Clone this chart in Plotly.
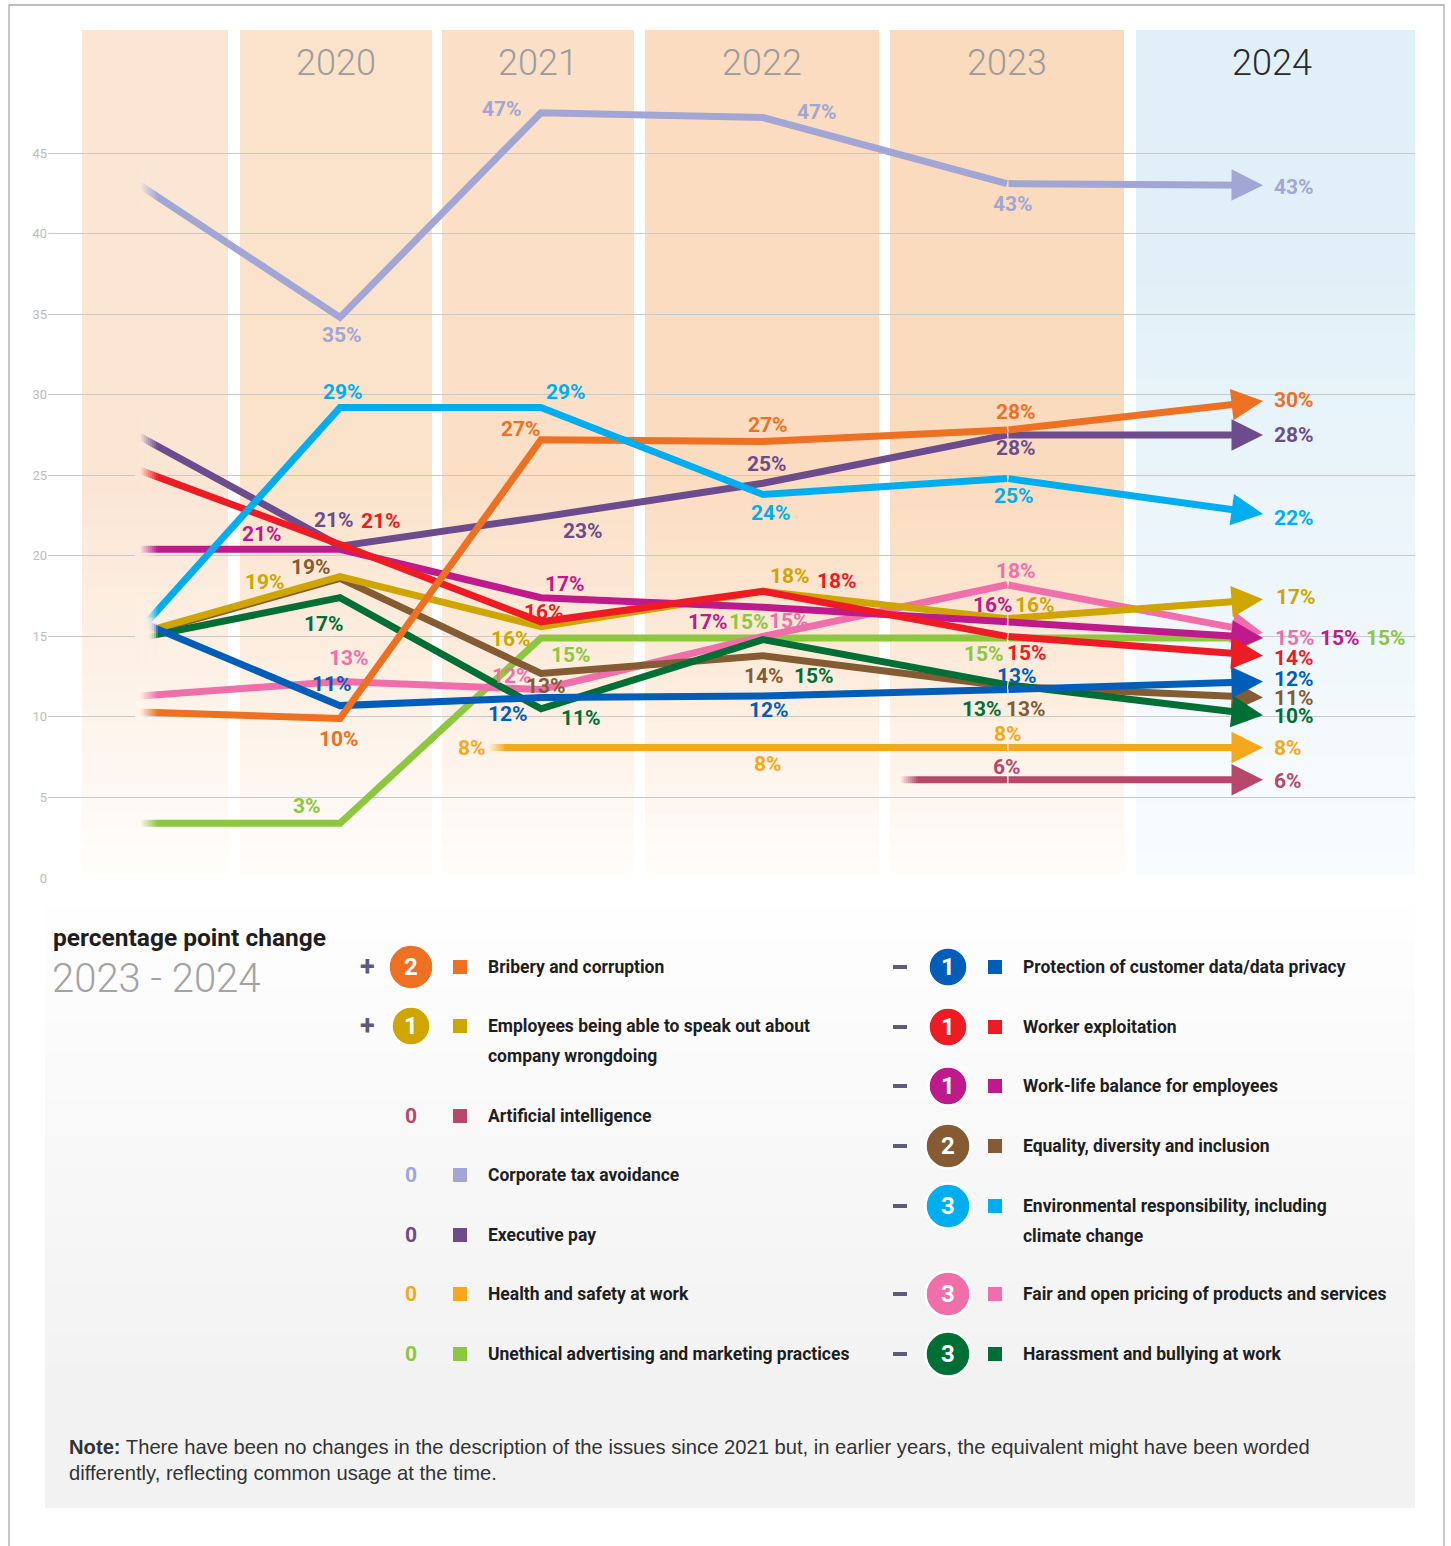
import plotly.graph_objects as go

W, H = 1451, 1546

# ---------------------------------------------------------------- data
years = ["2019", "2020", "2021", "2022", "2023", "2024"]
year_titles = ["2020", "2021", "2022", "2023", "2024"]

# plotted shares (%) per year (None = not asked that year)
tax_avoidance = [43.0, 34.8, 47.5, 47.2, 43.1, 43.0]
environment = [15.4, 29.2, 29.2, 23.8, 24.8, 22.6]
bribery = [10.3, 9.9, 27.2, 27.1, 27.8, 29.6]
executive_pay = [27.4, 20.6, 22.4, 24.5, 27.5, 27.5]
worker_exploitation = [25.3, 20.7, 15.9, 17.8, 15.0, 13.8]
work_life = [20.4, 20.4, 17.4, 16.8, 15.9, 14.9]
speak_out = [15.2, 18.7, 15.6, 17.8, 16.1, 17.3]
equality = [15.1, 18.6, 12.7, 13.8, 11.9, 11.2]
harassment = [14.9, 17.4, 10.5, 14.8, 12.0, 10.1]
fair_pricing = [11.3, 12.2, 11.7, 15.0, 18.2, 15.2]
data_privacy = [15.9, 10.7, 11.2, 11.3, 11.7, 12.2]
advertising = [3.4, 3.4, 14.9, 14.9, 14.9, 14.9]
health_safety = [None, None, 8.1, 8.1, 8.1, 8.1]
artificial_intelligence = [None, None, None, None, 6.1, 6.1]

# printed percentage labels
tax_avoidance_pct = [None, 35, 47, 47, 43, 43]
environment_pct = [None, 29, 29, 24, 25, 22]
bribery_pct = [None, 10, 27, 27, 28, 30]
executive_pay_pct = [None, 21, 23, 25, 28, 28]
worker_exploitation_pct = [None, 21, 16, 18, 15, 14]
work_life_pct = [None, 21, 17, 17, 16, 15]
speak_out_pct = [None, 19, 16, 18, 16, 17]
equality_pct = [None, 19, 13, 14, 13, 11]
harassment_pct = [None, 17, 11, 15, 13, 10]
fair_pricing_pct = [None, 13, 12, 15, 18, 15]
data_privacy_pct = [None, 11, 12, 12, 13, 12]
advertising_pct = [None, 3, 15, 15, 15, 15]
health_safety_pct = [None, None, 8, 8, 8, 8]
artificial_intelligence_pct = [None, None, None, None, 6, 6]

# percentage point change 2023-2024 (legend)
issues = [
    "Bribery and corruption",
    "Employees being able to speak out about company wrongdoing",
    "Artificial intelligence",
    "Corporate tax avoidance",
    "Executive pay",
    "Health and safety at work",
    "Unethical advertising and marketing practices",
    "Protection of customer data/data privacy",
    "Worker exploitation",
    "Work-life balance for employees",
    "Equality, diversity and inclusion",
    "Environmental responsibility, including climate change",
    "Fair and open pricing of products and services",
    "Harassment and bullying at work",
]
change_pp = [2, 1, 0, 0, 0, 0, 0, -1, -1, -1, -2, -3, -3, -3]

# ---------------------------------------------------------------- styling
COLORS = {
    "Bribery and corruption": "#EE7023",
    "Employees being able to speak out about company wrongdoing": "#CFA600",
    "Artificial intelligence": "#B8486B",
    "Corporate tax avoidance": "#A2A6D4",
    "Executive pay": "#6C4C8C",
    "Health and safety at work": "#F6A81C",
    "Unethical advertising and marketing practices": "#8DC63F",
    "Protection of customer data/data privacy": "#005EB8",
    "Worker exploitation": "#ED1C24",
    "Work-life balance for employees": "#BE1A8C",
    "Equality, diversity and inclusion": "#845B32",
    "Environmental responsibility, including climate change": "#00AEEF",
    "Fair and open pricing of products and services": "#F06FAA",
    "Harassment and bullying at work": "#006F35",
}
SERIES = {
    "Corporate tax avoidance": (tax_avoidance, tax_avoidance_pct),
    "Environmental responsibility, including climate change": (environment, environment_pct),
    "Bribery and corruption": (bribery, bribery_pct),
    "Executive pay": (executive_pay, executive_pay_pct),
    "Worker exploitation": (worker_exploitation, worker_exploitation_pct),
    "Work-life balance for employees": (work_life, work_life_pct),
    "Employees being able to speak out about company wrongdoing": (speak_out, speak_out_pct),
    "Equality, diversity and inclusion": (equality, equality_pct),
    "Harassment and bullying at work": (harassment, harassment_pct),
    "Fair and open pricing of products and services": (fair_pricing, fair_pricing_pct),
    "Protection of customer data/data privacy": (data_privacy, data_privacy_pct),
    "Unethical advertising and marketing practices": (advertising, advertising_pct),
    "Health and safety at work": (health_safety, health_safety_pct),
    "Artificial intelligence": (artificial_intelligence, artificial_intelligence_pct),
}
DRAW_ORDER = [
    "Corporate tax avoidance",
    "Unethical advertising and marketing practices",
    "Health and safety at work",
    "Artificial intelligence",
    "Fair and open pricing of products and services",
    "Equality, diversity and inclusion",
    "Harassment and bullying at work",
    "Employees being able to speak out about company wrongdoing",
    "Protection of customer data/data privacy",
    "Work-life balance for employees",
    "Executive pay",
    "Worker exploitation",
    "Bribery and corruption",
    "Environmental responsibility, including climate change",
]
# label offsets in px (dx, dy-down); last tuple: left-anchored label after arrow
LABEL_POS = {
    "Corporate tax avoidance": [None, (2, 18), (-39, -4), (54, -6), (6, 20), (9, 2)],
    "Environmental responsibility, including climate change": [None, (3, -16), (25, -16), (8, 18), (7, 18), (9, 4)],
    "Bribery and corruption": [None, (-1, 20), (-20, -11), (5, -16), (9, -18), (9, -1)],
    "Executive pay": [None, (-6, -26), (42, 14), (4, -19), (9, 13), (9, 0)],
    "Worker exploitation": [None, (41, -24), (3, -10), (74, -10), (20, 17), (9, 2)],
    "Work-life balance for employees": [None, (-78, -15), (24, -14), (-55, 15), (-14, -17), (55, 0)],
    "Employees being able to speak out about company wrongdoing": [None, (-75, 5), (-30, 12), (27, -15), (28, -14), (11, -2)],
    "Equality, diversity and inclusion": [None, (-29, -11), (5, 13), (1, 20), (19, 23), (9, 0)],
    "Harassment and bullying at work": [None, (-16, 26), (40, 9), (51, 36), (-25, 24), (9, 1)],
    "Fair and open pricing of products and services": [None, (9, -23), (-29, -14), (26, -15), (9, -14), (10, 5)],
    "Protection of customer data/data privacy": [None, (-8, -22), (-33, 16), (6, 14), (10, -14), (9, -2)],
    "Unethical advertising and marketing practices": [None, (-33, -17), (30, 17), (-14, -16), (-23, 16), (101, 0)],
    "Health and safety at work": [None, None, (-69, 0), (5, 16), (1, -14), (9, 0)],
    "Artificial intelligence": [None, None, None, None, (0, -13), (9, 1)],
}
LEAD_PX = {"Health and safety at work": 53, "Artificial intelligence": 107}

# x positions of the year columns (axis units = 100 px)
YEAR_POS = [0.0, 2.0, 4.01, 6.23, 8.67, 11.23]
X0_PX = 140
PXU = (878 - 153) / 45.0   # px per percentage point


def ux(px):
    return (px - X0_PX) / 100.0


def X(px):
    return px / W


def Y(py):
    return 1 - py / H


def hex2rgb(h):
    h = h.lstrip("#")
    return tuple(int(h[i:i + 2], 16) for i in (0, 2, 4))


def lerp(c1, c2, t):
    a, b = hex2rgb(c1), hex2rgb(c2)
    return "rgb(%d,%d,%d)" % tuple(round(a[i] + (b[i] - a[i]) * t) for i in range(3))


NUM_FONT = "Roboto, Liberation Sans, sans-serif"
LIGHT_FONT = "Roboto, Lato, Open Sans, sans-serif"

shapes = []
annotations = []

# ---------------------------------------------------------------- background bands
BANDS_PX = [(82, 228), (240, 432), (442, 634), (645, 879), (890, 1124), (1136, 1415)]
BAND_TOP = ["#FBE6D4", "#FBE2CB", "#FBDFC6", "#FBDCC0", "#FBDBBE", "#E1F0F8"]
BAND_BOT = ["#FFFDFB", "#FFFDFB", "#FFFDFB", "#FFFDFB", "#FFFDFB", "#F9FCFE"]
BAND_G0 = [480, 480, 480, 480, 480, 260]
BAND_Y0, BAND_Y1 = 30, 874


def band_color(i, ypx):
    g0, g1 = BAND_G0[i], BAND_Y1
    t = min(1.0, max(0.0, (ypx - g0) / (g1 - g0)))
    return lerp(BAND_TOP[i], BAND_BOT[i], t)


NSL = 26
for i, (a, b) in enumerate(BANDS_PX):
    shapes.append(dict(type="rect", xref="x", yref="paper", x0=ux(a), x1=ux(b),
                       y0=Y(BAND_G0[i]), y1=Y(BAND_Y0), fillcolor=BAND_TOP[i],
                       line=dict(width=0), layer="below"))
    step = (BAND_Y1 - BAND_G0[i]) / NSL
    for k in range(NSL):
        ya = BAND_G0[i] + k * step
        yb = ya + step + 0.6
        shapes.append(dict(type="rect", xref="x", yref="paper", x0=ux(a), x1=ux(b),
                           y0=Y(min(yb, BAND_Y1)), y1=Y(ya),
                           fillcolor=band_color(i, ya + step / 2),
                           line=dict(width=0), layer="below"))

# legend panel (soft grey gradient)
PANEL_X0, PANEL_X1 = 45, 1415
shapes.append(dict(type="rect", xref="paper", yref="paper", x0=X(PANEL_X0), x1=X(PANEL_X1),
                   y0=Y(1508), y1=Y(1380), fillcolor="#F2F2F2", line=dict(width=0), layer="below"))
NP = 30
for k in range(NP):
    ya = 890 + k * (1380 - 890) / NP
    yb = ya + (1380 - 890) / NP + 0.6
    shapes.append(dict(type="rect", xref="paper", yref="paper", x0=X(PANEL_X0), x1=X(PANEL_X1),
                       y0=Y(yb), y1=Y(ya), fillcolor=lerp("#FFFFFF", "#F2F2F2", (k + 0.5) / NP),
                       line=dict(width=0), layer="below"))

# outer frame
shapes.append(dict(type="rect", xref="paper", yref="paper", x0=X(9), x1=X(1444),
                   y0=Y(1600), y1=Y(5), line=dict(color="#A9A9A9", width=1.3),
                   fillcolor="rgba(0,0,0,0)", layer="below"))

# year titles
for j, t in enumerate(year_titles):
    a, b = BANDS_PX[j + 1]
    annotations.append(dict(text=t, xref="x", yref="paper", x=ux((a + b) / 2) - (0.04 if t == "2024" else 0),
                            y=Y(63), showarrow=False, xanchor="center", yanchor="middle",
                            font=dict(family=LIGHT_FONT, size=36, weight=300,
                                      color="#2A2A2A" if t == "2024" else "#9C9C9C")))

# ---------------------------------------------------------------- lines
fig = go.Figure()
arrows = []
fades = []
for name in DRAW_ORDER:
    vals, pcts = SERIES[name]
    col = COLORS[name]
    idx = [i for i, v in enumerate(vals) if v is not None]
    k0 = idx[0]
    xs = [YEAR_POS[i] for i in idx if i < 5]
    ys = [vals[i] for i in idx if i < 5]
    lead = LEAD_PX.get(name, 0)
    if lead:
        xs = [YEAR_POS[k0] - lead / 100.0] + xs
        ys = [vals[k0]] + ys
    fig.add_trace(go.Scatter(x=xs, y=ys, mode="lines", name=name,
                             line=dict(color=col, width=7), hoverinfo="skip"))
    # arrow for the last (2024) segment
    arrows.append(dict(x=YEAR_POS[5], y=vals[5], ax=YEAR_POS[4], ay=vals[4],
                       xref="x", yref="y", axref="x", ayref="y", text="",
                       showarrow=True, arrowhead=2, arrowsize=0.9, arrowwidth=7,
                       arrowcolor=col, standoff=0, startstandoff=0))
    # start fade info
    if len(xs) > 1:
        slope = (ys[1] - ys[0]) / ((xs[1] - xs[0]) * 100.0)
    else:
        slope = 0.0
    band_i = next(bi for bi, (a, b) in enumerate(BANDS_PX) if a <= xs[0] * 100 + X0_PX <= b)
    fades.append((xs[0], ys[0], slope, band_i))
    # labels
    for i, off in enumerate(LABEL_POS[name]):
        if off is None or pcts[i] is None:
            continue
        dx, dy = off
        annotations.append(dict(text=f"{pcts[i]}%", x=YEAR_POS[i], y=vals[i], xref="x", yref="y",
                                showarrow=False, xanchor="left" if i == 5 else "center",
                                yanchor="middle", xshift=dx, yshift=-dy,
                                font=dict(family=NUM_FONT, size=21, weight="bold", color=col)))

# fade-in at the start of each line (strips of background colour)
NF = 9
for (x0, v0, slope, bi) in fades:
    half = 0.6 + abs(slope) * 22
    col = band_color(bi, 878 - v0 * PXU)
    shapes.append(dict(type="rect", xref="x", yref="y", x0=x0 - 0.05, x1=x0 + 0.005,
                       y0=v0 - half, y1=v0 + half, fillcolor=col, line=dict(width=0), layer="above"))
    for j in range(NF):
        shapes.append(dict(type="rect", xref="x", yref="y",
                           x0=x0 + 0.02 * j, x1=x0 + 0.02 * (j + 1),
                           y0=v0 - half, y1=v0 + half, fillcolor=col, opacity=1 - (j + 0.5) / NF,
                           line=dict(width=0), layer="above"))

# ---------------------------------------------------------------- legend
annotations.append(dict(text="percentage point change", xref="paper", yref="paper",
                        x=X(51), y=Y(937), xanchor="left", yanchor="middle", showarrow=False,
                        font=dict(family=NUM_FONT, size=24.5, weight="bold", color="#1E1E1E")))
annotations.append(dict(text="2023 - 2024", xref="paper", yref="paper",
                        x=X(50), y=Y(978), xanchor="left", yanchor="middle", showarrow=False,
                        font=dict(family=LIGHT_FONT, size=40, weight=300, color="#A3A3A3")))

LEGEND_LINES = {
    "Employees being able to speak out about company wrongdoing":
        ["Employees being able to speak out about", "company wrongdoing"],
    "Environmental responsibility, including climate change":
        ["Environmental responsibility, including", "climate change"],
}
LEFT_ROWS = [967, 1026, 1116, 1175, 1235, 1294, 1354]
RIGHT_ROWS = [967, 1027, 1086, 1146, 1206, 1294, 1354]
COLS = [(367, 411, 460, 486), (900, 948, 995, 1021)]
SIGN_COLOR = "#5C5B7E"

for n, (name, chg) in enumerate(zip(issues, change_pp)):
    colidx = 0 if n < 7 else 1
    ry = (LEFT_ROWS if colidx == 0 else RIGHT_ROWS)[n % 7]
    sx, cx, qx, tx = COLS[colidx]
    col = COLORS[name]
    if chg != 0:
        if chg > 0:
            annotations.append(dict(text="+", xref="paper", yref="paper",
                                    x=X(sx), y=Y(ry), xanchor="center", yanchor="middle",
                                    showarrow=False,
                                    font=dict(family=NUM_FONT, size=27, weight="bold", color=SIGN_COLOR)))
        else:
            shapes.append(dict(type="rect", xref="paper", yref="paper", xsizemode="pixel",
                               ysizemode="pixel", xanchor=X(sx), yanchor=Y(ry),
                               x0=-7, x1=7, y0=-2, y1=2, fillcolor=SIGN_COLOR, line=dict(width=0)))
        r = 19.5 if abs(chg) == 1 else 22.5
        shapes.append(dict(type="circle", xref="paper", yref="paper", xsizemode="pixel",
                           ysizemode="pixel", xanchor=X(cx), yanchor=Y(ry),
                           x0=-r, x1=r, y0=-r, y1=r, fillcolor=col,
                           line=dict(color="white", width=2.5)))
        annotations.append(dict(text=str(abs(chg)), xref="paper", yref="paper",
                                x=X(cx), y=Y(ry), xanchor="center", yanchor="middle", showarrow=False,
                                font=dict(family=NUM_FONT, size=24, weight="bold", color="white")))
    else:
        annotations.append(dict(text="0", xref="paper", yref="paper",
                                x=X(cx), y=Y(ry), xanchor="center", yanchor="middle", showarrow=False,
                                font=dict(family=NUM_FONT, size=21, weight="bold", color=col)))
    shapes.append(dict(type="rect", xref="paper", yref="paper", xsizemode="pixel",
                       ysizemode="pixel", xanchor=X(qx), yanchor=Y(ry),
                       x0=-7, x1=7, y0=-7, y1=7, fillcolor=col, line=dict(width=0)))
    for li, line_txt in enumerate(LEGEND_LINES.get(name, [name])):
        annotations.append(dict(text=line_txt, xref="paper", yref="paper",
                                x=X(tx), y=Y(ry + li * 30), xanchor="left", yanchor="middle",
                                showarrow=False,
                                font=dict(family=NUM_FONT, size=17.5, weight="bold", color="#1E1E1E")))

# note
annotations.append(dict(
    text="<b>Note:</b> There have been no changes in the description of the issues since 2021 but, in earlier years, the equivalent might have been worded<br>differently, reflecting common usage at the time.",
    xref="paper", yref="paper", x=X(67), y=Y(1434), xanchor="left", yanchor="top", align="left",
    showarrow=False, font=dict(family="Liberation Sans, Arial, sans-serif", size=20.2, color="#333333")))

fig.update_layout(
    width=W, height=H, margin=dict(l=0, r=0, t=0, b=0, pad=0),
    paper_bgcolor="white", plot_bgcolor="rgba(0,0,0,0)", showlegend=False,
    template="none", hovermode=False,
    xaxis=dict(domain=[X(48), X(1415)], range=[ux(48), ux(1415)], visible=False,
               fixedrange=True, automargin=False),
    yaxis=dict(domain=[Y(878), Y(30)], range=[0, (878 - 30) / PXU],
               tickvals=[0, 5, 10, 15, 20, 25, 30, 35, 40, 45],
               ticktext=[str(v) for v in [0, 5, 10, 15, 20, 25, 30, 35, 40, 45]],
               showgrid=True, gridcolor="#C9C9C9", gridwidth=1.3, zeroline=False,
               showline=False, ticks="", automargin=False, fixedrange=True,
               tickfont=dict(family=NUM_FONT, size=13, color="#BDBDBD")),
    shapes=shapes,
    annotations=arrows + annotations,
)

fig.write_html("out.html", config={"displayModeBar": False},
               post_script="document.body.style.margin='0';")
